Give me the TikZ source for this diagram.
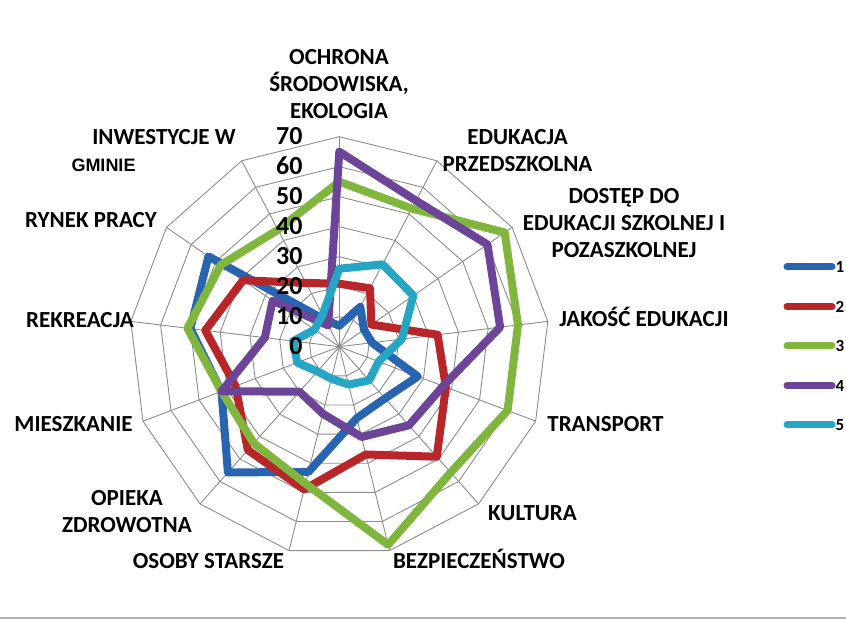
\documentclass[tikz,border=0pt]{standalone}
\usepackage{fontspec}
\setmainfont{Carlito}
\newfontfamily\gminafont{Liberation Sans}
\definecolor{ser1}{RGB}{40,100,175}
\definecolor{ser2}{RGB}{185,38,42}
\definecolor{ser3}{RGB}{128,182,62}
\definecolor{ser4}{RGB}{108,68,152}
\definecolor{ser5}{RGB}{38,165,196}
\definecolor{gridc}{RGB}{140,140,140}
\begin{document}
\begin{tikzpicture}[x=1pt,y=1pt,
  lab/.style={font=\fontsize{23}{27}\selectfont\bfseries,align=center},
  ser/.style={line width=8pt,line join=round}]
\useasboundingbox (0,0) rectangle (846,619);
\begin{scope}[shift={(339.3,272.3)}]
%grid
\foreach \r in {30,60,...,210}{\draw[gridc,line width=0.9pt] (90:\r) \foreach \k in {1,...,12}{--(90-\k*360/13:\r)} --cycle;}
\foreach \k in {0,...,12}{\draw[gridc,line width=0.9pt] (0,0)--(90-\k*360/13:210);}
%series
\foreach \c/\a/\d in {ser1/7/{15,10,11,28,23,24.5,43,56,42,50,53,10},
  ser2/21/{22,13,33,38,49,37,49,46,37,45,39,24},
  ser3/55/{52,67,60,60,56,68,47,43,42,51,48,44},
  ser4/65/{55,60,54,37,35,31,23,20,42,25,27,8},
  ser5/26/{31,30,21,14,15,13,11,11,15,15.5,10,12}}{
\draw[ser,\c] (90:3*\a) \foreach \v [count=\k] in \d {--(90-\k*360/13:3*\v)} --cycle;}
\end{scope}
%scale
\foreach \v in {0,10,...,70}{\node[anchor=base east,font=\fontsize{26}{30}\selectfont\bfseries] (n\v) at (306,264.3+3*\v) {\v};}
%labels
\node[lab] (ochrona) at (339,535) {OCHRONA\\ŚRODOWISKA,\\EKOLOGIA};
\node[lab] (przedszk) at (517.5,468.5) {EDUKACJA\\PRZEDSZKOLNA};
\node[lab] (dostep) at (624,396.4) {DOSTĘP DO\\EDUKACJI SZKOLNEJ I\\POZASZKOLNEJ};
\node[lab,anchor=base] (jakosc) at (644,292) {JAKOŚĆ EDUKACJI};
\node[lab,anchor=base] (transport) at (605.5,187) {TRANSPORT};
\node[lab,anchor=base] (kultura) at (532.5,99) {KULTURA};
\node[lab,anchor=base] (bezp) at (479,51) {BEZPIECZEŃSTWO};
\node[lab,anchor=base] (osoby) at (208.5,51) {OSOBY STARSZE};
\node[lab] (opieka) at (127,107.3) {OPIEKA\\ZDROWOTNA};
\node[lab,anchor=base] (mieszk) at (73.5,187) {MIESZKANIE};
\node[lab,anchor=base] (rekre) at (80,291) {REKREACJA};
\node[lab,anchor=base] (rynek) at (91,391) {RYNEK PRACY};
\node[lab,anchor=base] (inwest) at (164,474) {INWESTYCJE W};
\node[anchor=base,font=\gminafont\fontsize{18}{20}\selectfont\bfseries] (gminie) at (103.5,447) {GMINIE};
%legend
\foreach \i/\c in {1/ser1,2/ser2,3/ser3,4/ser4,5/ser5}{
\draw[\c,line width=7pt,line cap=round] (787,391.5-39.5*\i)--++(45,0);
\node[anchor=base west,inner sep=0pt,font=\fontsize{17}{20}\selectfont\bfseries] (leg\i) at (835.5,385.5-39.5*\i) {\i};}
\draw[gray!60,line width=2pt] (0,1)--(846,1);
\end{tikzpicture}
\end{document}
